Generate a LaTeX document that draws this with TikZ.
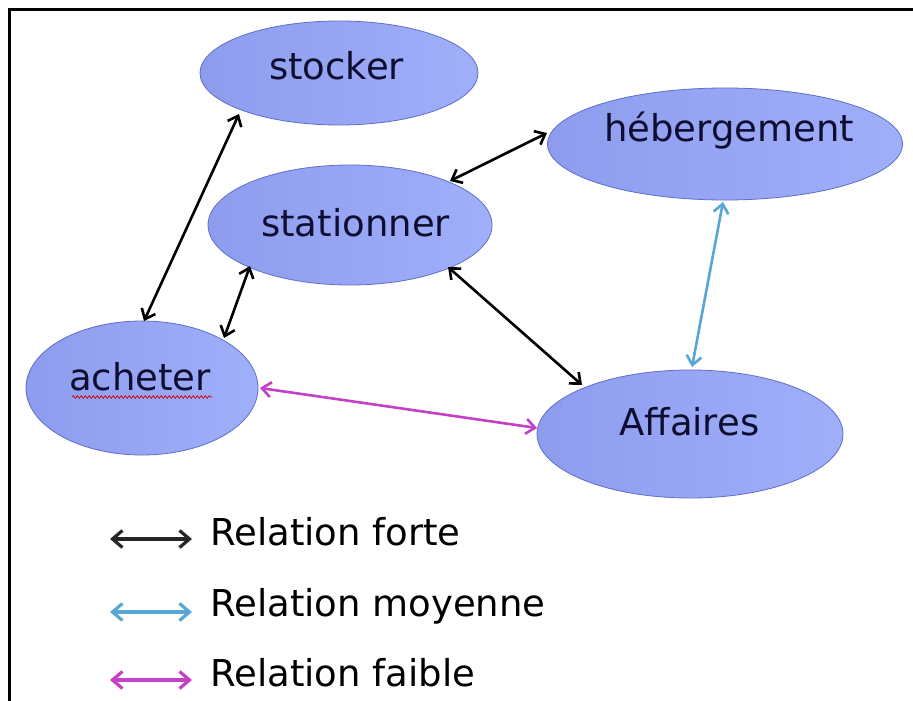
\documentclass[tikz,border=0pt]{standalone}
\usepackage{fontspec}
\setmainfont{DejaVu Sans}
\usetikzlibrary{shapes.geometric,arrows.meta,decorations.pathmorphing}
\definecolor{ellfillL}{RGB}{142,156,238}
\definecolor{ellfillR}{RGB}{160,175,250}
\definecolor{elldraw}{RGB}{95,110,200}
\definecolor{txtcol}{RGB}{14,14,48}
\definecolor{midblue}{RGB}{88,166,214}
\definecolor{weakmag}{RGB}{196,64,196}
\tikzset{
  x=1pt, y=-1pt,
  bubble/.style={ellipse, draw=elldraw, line width=0.8pt, left color=ellfillL, right color=ellfillR, inner sep=0pt},
  word/.style={anchor=base west, inner sep=0pt, text=txtcol, font=\fontsize{37}{40}\selectfont},
  legtext/.style={anchor=base west, inner sep=0pt, text=black, font=\fontsize{37}{40}\selectfont},
  rel/.style={line width=2.6pt, {Straight Barb[length=9pt,width=15pt]}-{Straight Barb[length=9pt,width=15pt]}},
  strong/.style={rel, black},
  medium/.style={rel, midblue},
  weak/.style={rel, weakmag},
  legarrow/.style={line width=3.2pt, {Straight Barb[length=10pt,width=17pt]}-{Straight Barb[length=10pt,width=17pt]}},
}
\begin{document}
\begin{tikzpicture}
\useasboundingbox (0,0) rectangle (913,701);
\fill[white] (0,0) rectangle (913,701);
\coordinate (frameTop) at (913,10);
\coordinate (frameCorner) at (9,10);
\coordinate (frameBottom) at (9,701);
\draw[line width=3pt, line cap=rect] (frameTop) -- (frameCorner) -- (frameBottom);

% ellipses
\node[bubble, minimum width=278pt, minimum height=104pt] (stocker) at (339,73) {};
\node[bubble, minimum width=355pt, minimum height=112pt] (heb) at (725,144) {};
\node[bubble, minimum width=284pt, minimum height=120pt] (station) at (350,225) {};
\node[bubble, minimum width=232pt, minimum height=134pt] (acheter) at (142,388) {};
\node[bubble, minimum width=306pt, minimum height=128pt] (affaires) at (690,434) {};

% texts
\node[word] (stockerT) at (269,79) {stocker};
\node[word] (hebT) at (604,141) {hébergement};
\node[word] (stationT) at (261,236) {stationner};
\node[word] (acheterT) at (69,390) {acheter};
\node[word] (affairesT) at (619,435) {Affaires};

% red wavy underline under acheter
\coordinate (waveA) at (72,397);
\coordinate (waveB) at (212,397);
\draw[red!80!black, line width=0.7pt, decorate, decoration={snake, amplitude=1.3pt, segment length=4pt}] (waveA) -- (waveB);

% connector end points
\coordinate (s1) at (239,114);
\coordinate (a1) at (144,321);
\coordinate (st1) at (250,266);
\coordinate (a2) at (224,338);
\coordinate (st2) at (450,181);
\coordinate (h1) at (547,133);
\coordinate (st3) at (448,267);
\coordinate (af1) at (582,385);
\coordinate (h2) at (723,202);
\coordinate (af2) at (692,367);
\coordinate (a3) at (260,388);
\coordinate (af3) at (537,428);

\draw[strong] (s1) -- (a1);
\draw[strong] (st1) -- (a2);
\draw[strong] (st2) -- (h1);
\draw[strong] (st3) -- (af1);
\draw[medium] (h2) -- (af2);
\draw[weak] (a3) -- (af3);

% legend
\coordinate (l1a) at (110,539);
\coordinate (l1b) at (192,539);
\coordinate (l2a) at (110,612);
\coordinate (l2b) at (192,612);
\coordinate (l3a) at (110,680);
\coordinate (l3b) at (192,680);
\draw[legarrow, black!85] (l1a) -- (l1b);
\draw[legarrow, midblue] (l2a) -- (l2b);
\draw[legarrow, weakmag] (l3a) -- (l3b);
\node[legtext] (leg1) at (210,545) {Relation forte};
\node[legtext] (leg2) at (210,616) {Relation moyenne};
\node[legtext] (leg3) at (210,686) {Relation faible};
\end{tikzpicture}
\end{document}
